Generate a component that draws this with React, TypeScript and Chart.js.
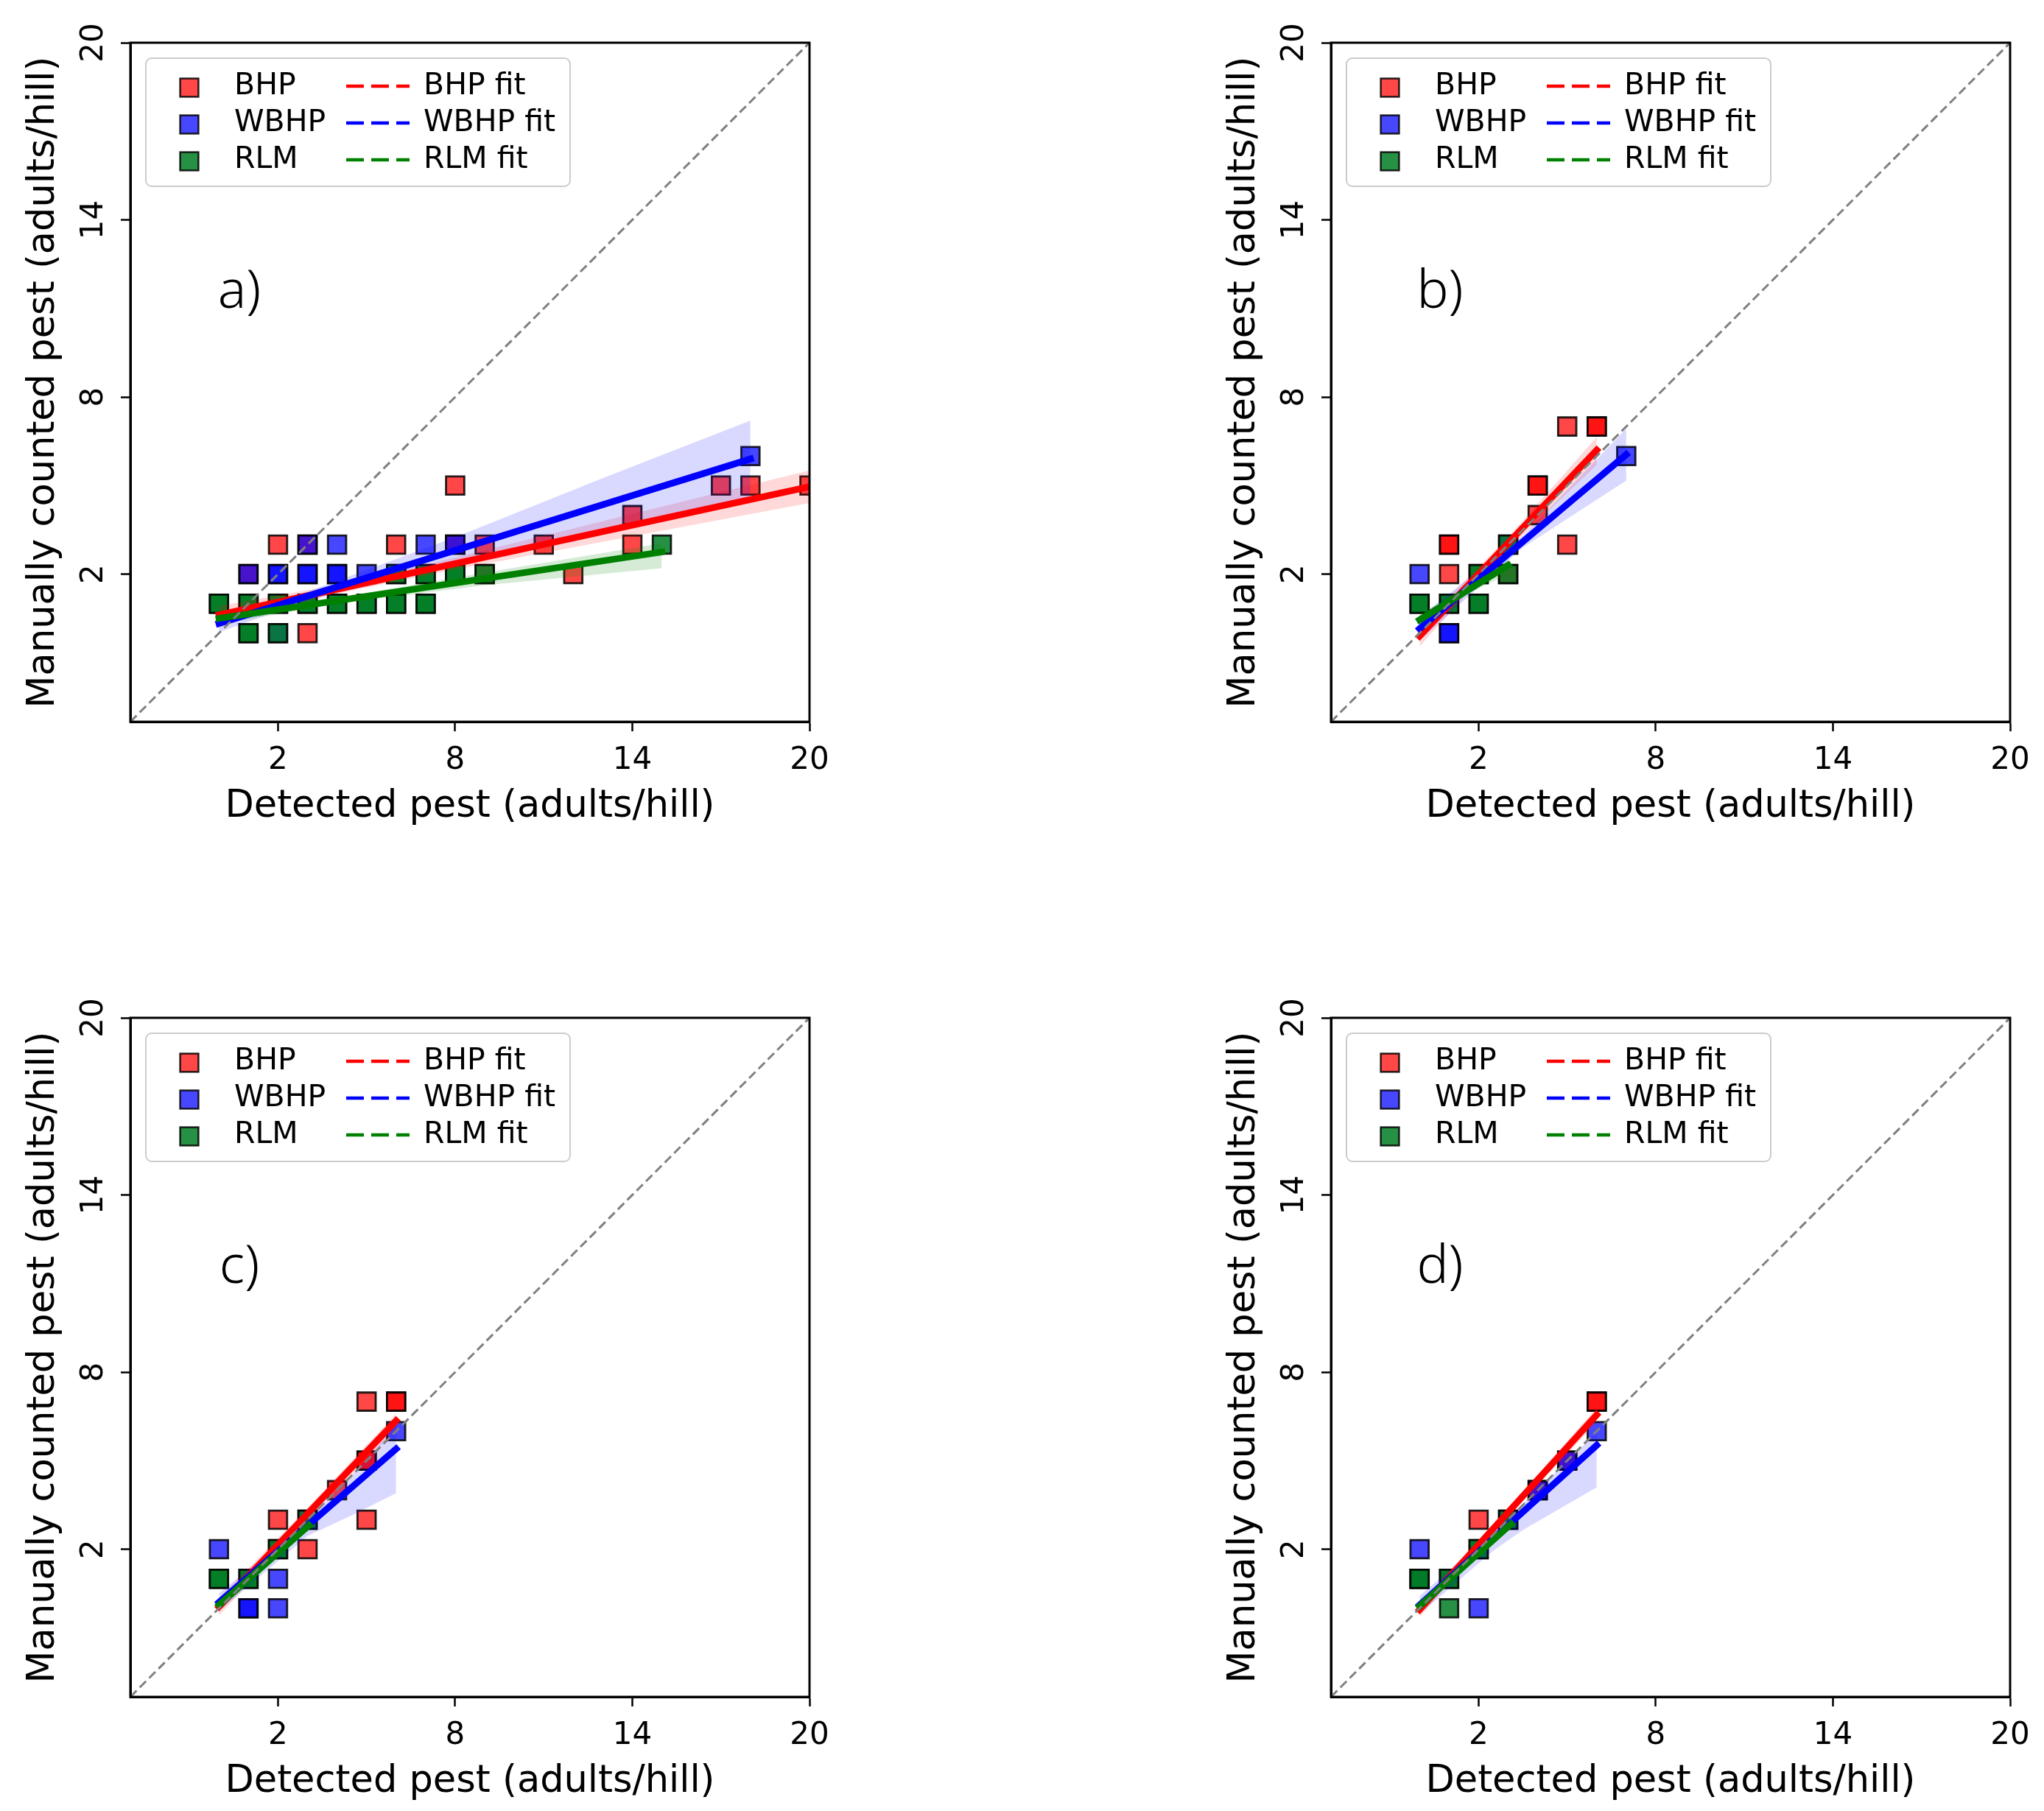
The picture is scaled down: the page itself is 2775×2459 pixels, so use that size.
import React, { useEffect, useRef } from "react";
import { Chart, registerables } from "chart.js";

Chart.register(...registerables);

const axisMin = -3;
const axisMax = 20;
const tickValues = [2, 8, 14, 20];
const groupNames = ["BHP", "WBHP", "RLM"];
const fitNames = ["BHP fit", "WBHP fit", "RLM fit"];
const xTitle = "Detected pest (adults/hill)";
const yTitle = "Manually counted pest (adults/hill)";

// ---- panel a ----
const aBhpX = [3, 2, 6, 9, 11, 14, 12, 14, 8, 17, 18, 20, 1, 3, 8, 9];
const aBhpY = [0, 3, 3, 3, 3, 3, 2, 4, 5, 5, 5, 5, 2, 3, 3, 2];
const aWbhpX = [1, 2, 2, 3, 3, 4, 4, 5, 3, 4, 7, 8, 18, 2];
const aWbhpY = [2, 2, 2, 2, 2, 2, 2, 2, 3, 3, 3, 3, 6, 0];
const aRlmX = [0, 0, 1, 1, 2, 2, 3, 3, 4, 4, 5, 5, 6, 6, 7, 7, 1, 1, 2, 6, 6, 7, 7, 8, 8, 9, 15];
const aRlmY = [1, 1, 1, 1, 1, 1, 1, 1, 1, 1, 1, 1, 1, 1, 1, 1, 0, 0, 0, 2, 2, 2, 2, 2, 2, 2, 3];
const aBhpFitX = [0, 20];
const aBhpFitY = [0.62, 4.96];
const aWbhpFitX = [0, 18];
const aWbhpFitY = [0.33, 5.9];
const aRlmFitX = [0, 15];
const aRlmFitY = [0.5, 2.75];
const aBhpBandX = [0, 4, 8, 14, 20];
const aBhpBandLo = [0.32, 1.34, 2.16, 3.28, 4.41];
const aBhpBandHi = [0.92, 1.64, 2.56, 4.04, 5.51];
const aWbhpBandX = [0, 3, 8, 13, 18];
const aWbhpBandLo = [0.03, 1.11, 2.35, 3.45, 4.6];
const aWbhpBandHi = [0.63, 1.41, 3.25, 5.25, 7.2];
const aRlmBandX = [0, 4, 9, 15];
const aRlmBandLo = [0.3, 1.0, 1.62, 2.2];
const aRlmBandHi = [0.7, 1.2, 2.05, 3.05];

// ---- panel b ----
const bBhpX = [5, 6, 6, 4, 4, 4, 1, 1, 5, 1, 3];
const bBhpY = [7, 7, 7, 5, 5, 4, 3, 3, 3, 2, 2];
const bWbhpX = [7, 0, 1, 1, 3];
const bWbhpY = [6, 2, 0, 0, 3];
const bRlmX = [0, 0, 1, 1, 2, 2, 2, 2, 3, 3];
const bRlmY = [1, 1, 1, 1, 1, 1, 2, 2, 2, 3];
const bBhpFitX = [0, 6];
const bBhpFitY = [-0.1, 6.2];
const bWbhpFitX = [0, 7];
const bWbhpFitY = [0.15, 6.05];
const bRlmFitX = [0, 3];
const bRlmFitY = [0.45, 2.3];
const bBhpBandX = [0, 3, 6];
const bBhpBandLo = [-0.45, 2.85, 5.7];
const bBhpBandHi = [0.25, 3.25, 6.65];
const bWbhpBandX = [0, 3.5, 7];
const bWbhpBandLo = [-0.25, 2.9, 5.17];
const bWbhpBandHi = [0.55, 3.3, 6.93];
const bRlmBandX = [0, 1.5, 3];
const bRlmBandLo = [0.25, 1.28, 2.0];
const bRlmBandHi = [0.65, 1.48, 2.6];

// ---- panel c ----
const cBhpX = [5, 6, 6, 5, 5, 4, 2, 5, 3];
const cBhpY = [7, 7, 7, 5, 5, 4, 3, 3, 2];
const cWbhpX = [6, 3, 0, 2, 1, 1, 2];
const cWbhpY = [6, 3, 2, 1, 0, 0, 0];
const cRlmX = [3, 2, 2, 0, 0, 1, 1];
const cRlmY = [3, 2, 2, 1, 1, 1, 1];
const cBhpFitX = [0, 6];
const cBhpFitY = [0.05, 6.35];
const cWbhpFitX = [0, 6];
const cWbhpFitY = [0.2, 5.4];
const cRlmFitX = [0, 3.05];
const cRlmFitY = [0.11, 2.81];
const cBhpBandX = [0, 3, 6];
const cBhpBandLo = [-0.25, 3.0, 6.05];
const cBhpBandHi = [0.35, 3.4, 6.6];
const cWbhpBandX = [0, 3, 4.5, 6];
const cWbhpBandLo = [-0.1, 2.45, 3.15, 3.9];
const cWbhpBandHi = [0.5, 3.0, 4.5, 6.2];
const cRlmBandX = [0, 1.5, 3.05];
const cRlmBandLo = [0.0, 1.38, 2.65];
const cRlmBandHi = [0.22, 1.48, 2.97];

// ---- panel d ----
const dBhpX = [6, 6, 5, 4, 2];
const dBhpY = [7, 7, 5, 4, 3];
const dWbhpX = [6, 5, 4, 3, 0, 0, 2];
const dWbhpY = [6, 5, 4, 3, 2, 1, 0];
const dRlmX = [3, 2, 2, 0, 0, 1, 1, 1];
const dRlmY = [3, 2, 2, 1, 1, 1, 1, 0];
const dBhpFitX = [0, 6];
const dBhpFitY = [-0.05, 6.55];
const dWbhpFitX = [0, 6];
const dWbhpFitY = [0.11, 5.52];
const dRlmFitX = [0, 3.1];
const dRlmFitY = [0.07, 2.86];
const dBhpBandX = [0, 3, 6];
const dBhpBandLo = [-0.3, 3.1, 6.3];
const dBhpBandHi = [0.2, 3.4, 6.8];
const dWbhpBandX = [0, 2.5, 3.5, 6];
const dWbhpBandLo = [-0.2, 1.95, 2.65, 4.1];
const dWbhpBandHi = [0.42, 2.6, 3.55, 5.95];
const dRlmBandX = [0, 1.5, 3.1];
const dRlmBandLo = [-0.05, 1.37, 2.7];
const dRlmBandHi = [0.19, 1.47, 3.02];

const markerColors = ["rgba(255,0,0,0.72)", "rgba(0,0,255,0.72)", "rgba(0,125,35,0.85)"];
const lineColors = ["#ff0000", "#0000ff", "#008000"];
const bandColors = ["rgba(255,0,0,0.15)", "rgba(0,0,255,0.15)", "rgba(0,128,0,0.16)"];
const edgeColor = "rgba(0,0,0,0.85)";
const FONT = '"DejaVu Sans", sans-serif';

type Group = {
  x: number[];
  y: number[];
  fitX: number[];
  fitY: number[];
  bandX: number[];
  bandLo: number[];
  bandHi: number[];
};

type Panel = { label: string; left: number; top: number; groups: Group[] };

const panels: Panel[] = [
  {
    label: "a)",
    left: 0,
    top: 0,
    groups: [
      { x: aBhpX, y: aBhpY, fitX: aBhpFitX, fitY: aBhpFitY, bandX: aBhpBandX, bandLo: aBhpBandLo, bandHi: aBhpBandHi },
      { x: aWbhpX, y: aWbhpY, fitX: aWbhpFitX, fitY: aWbhpFitY, bandX: aWbhpBandX, bandLo: aWbhpBandLo, bandHi: aWbhpBandHi },
      { x: aRlmX, y: aRlmY, fitX: aRlmFitX, fitY: aRlmFitY, bandX: aRlmBandX, bandLo: aRlmBandLo, bandHi: aRlmBandHi },
    ],
  },
  {
    label: "b)",
    left: 1630,
    top: 0,
    groups: [
      { x: bBhpX, y: bBhpY, fitX: bBhpFitX, fitY: bBhpFitY, bandX: bBhpBandX, bandLo: bBhpBandLo, bandHi: bBhpBandHi },
      { x: bWbhpX, y: bWbhpY, fitX: bWbhpFitX, fitY: bWbhpFitY, bandX: bWbhpBandX, bandLo: bWbhpBandLo, bandHi: bWbhpBandHi },
      { x: bRlmX, y: bRlmY, fitX: bRlmFitX, fitY: bRlmFitY, bandX: bRlmBandX, bandLo: bRlmBandLo, bandHi: bRlmBandHi },
    ],
  },
  {
    label: "c)",
    left: 0,
    top: 1324,
    groups: [
      { x: cBhpX, y: cBhpY, fitX: cBhpFitX, fitY: cBhpFitY, bandX: cBhpBandX, bandLo: cBhpBandLo, bandHi: cBhpBandHi },
      { x: cWbhpX, y: cWbhpY, fitX: cWbhpFitX, fitY: cWbhpFitY, bandX: cWbhpBandX, bandLo: cWbhpBandLo, bandHi: cWbhpBandHi },
      { x: cRlmX, y: cRlmY, fitX: cRlmFitX, fitY: cRlmFitY, bandX: cRlmBandX, bandLo: cRlmBandLo, bandHi: cRlmBandHi },
    ],
  },
  {
    label: "d)",
    left: 1630,
    top: 1324,
    groups: [
      { x: dBhpX, y: dBhpY, fitX: dBhpFitX, fitY: dBhpFitY, bandX: dBhpBandX, bandLo: dBhpBandLo, bandHi: dBhpBandHi },
      { x: dWbhpX, y: dWbhpY, fitX: dWbhpFitX, fitY: dWbhpFitY, bandX: dWbhpBandX, bandLo: dWbhpBandLo, bandHi: dWbhpBandHi },
      { x: dRlmX, y: dRlmY, fitX: dRlmFitX, fitY: dRlmFitY, bandX: dRlmBandX, bandLo: dRlmBandLo, bandHi: dRlmBandHi },
    ],
  },
];

const toPoints = (xs: number[], ys: number[]) => xs.map((x, i) => ({ x, y: ys[i] }));

// top and right spines, drawn over the clipped markers
const framePlugin = {
  id: "frame",
  afterDatasetsDraw(chart: any) {
    const { ctx, chartArea } = chart;
    ctx.save();
    ctx.strokeStyle = "#000";
    ctx.lineWidth = 3;
    ctx.strokeRect(chartArea.left, chartArea.top, chartArea.right - chartArea.left, chartArea.bottom - chartArea.top);
    ctx.restore();
  },
};

// matplotlib-like two column legend plus the panel letter
const legendPlugin = {
  id: "panelLegend",
  afterDraw(chart: any, _args: any, opts: any) {
    const { ctx, chartArea } = chart;
    const bx = chartArea.left + 21;
    const by = chartArea.top + 21;
    ctx.save();
    ctx.beginPath();
    ctx.roundRect(bx, by, 576, 174, 8);
    ctx.fillStyle = "rgba(255,255,255,0.8)";
    ctx.fill();
    ctx.lineWidth = 2;
    ctx.strokeStyle = "#cccccc";
    ctx.stroke();

    ctx.font = `41px ${FONT}`;
    ctx.textBaseline = "middle";
    ctx.textAlign = "left";
    groupNames.forEach((name, i) => {
      const cy = by + 38 + i * 50;
      ctx.fillStyle = markerColors[i];
      ctx.fillRect(bx + 59 - 12.4, cy + 2 - 12.4, 24.8, 24.8);
      ctx.strokeStyle = edgeColor;
      ctx.lineWidth = 2.5;
      ctx.strokeRect(bx + 59 - 12.4, cy + 2 - 12.4, 24.8, 24.8);
      ctx.fillStyle = "#000";
      ctx.fillText(name, bx + 120, cy);

      ctx.setLineDash([24, 10]);
      ctx.strokeStyle = lineColors[i];
      ctx.lineWidth = 4.5;
      ctx.beginPath();
      ctx.moveTo(bx + 272, cy);
      ctx.lineTo(bx + 358, cy);
      ctx.stroke();
      ctx.setLineDash([]);
      ctx.fillStyle = "#000";
      ctx.fillText(fitNames[i], bx + 377, cy);
    });

    ctx.font = '300 72px "Noto Sans", sans-serif';
    ctx.textAlign = "center";
    ctx.textBaseline = "alphabetic";
    ctx.fillStyle = "#000";
    ctx.fillText(opts.label, chartArea.left + 148, chartArea.top + 360);
    ctx.restore();
  },
};

function buildConfig(panel: Panel): any {
  const layers: any[] = [];

  panel.groups.forEach((g, i) => {
    layers.push({
      type: "scatter",
      label: groupNames[i],
      data: toPoints(g.x, g.y),
      pointStyle: "rect",
      pointRadius: 17.5,
      pointHoverRadius: 17.5,
      pointBackgroundColor: markerColors[i],
      pointBorderColor: edgeColor,
      pointBorderWidth: 2.8,
      showLine: false,
      clip: 0,
    });
  });

  panel.groups.forEach((g, i) => {
    const upperIndex = layers.length;
    layers.push({
      type: "line",
      label: fitNames[i] + " upper",
      data: toPoints(g.bandX, g.bandHi),
      borderWidth: 0,
      pointRadius: 0,
      fill: false,
      clip: 0,
    });
    layers.push({
      type: "line",
      label: fitNames[i] + " lower",
      data: toPoints(g.bandX, g.bandLo),
      borderWidth: 0,
      pointRadius: 0,
      backgroundColor: bandColors[i],
      fill: upperIndex,
      clip: 0,
    });
  });

  panel.groups.forEach((g, i) => {
    layers.push({
      type: "line",
      label: fitNames[i],
      data: toPoints(g.fitX, g.fitY),
      borderColor: lineColors[i],
      borderWidth: 9,
      borderCapStyle: "square",
      pointRadius: 0,
      fill: false,
      clip: 0,
    });
  });

  layers.push({
    type: "line",
    label: "1:1",
    data: toPoints([axisMin, axisMax], [axisMin, axisMax]),
    borderColor: "#808080",
    borderWidth: 3,
    borderDash: [12, 6],
    pointRadius: 0,
    fill: false,
    clip: 0,
  });

  // first pushed = bottom layer
  const datasets = layers.map((d, i) => ({ ...d, order: layers.length - i }));

  const tickFont = { family: FONT, size: 42 };
  const titleFont = { family: FONT, size: 51 };

  return {
    type: "scatter",
    data: { datasets },
    plugins: [framePlugin, legendPlugin],
    options: {
      animation: false,
      responsive: true,
      maintainAspectRatio: false,
      layout: { padding: { left: 0, top: 58, right: 50, bottom: 0 } },
      plugins: {
        legend: { display: false },
        tooltip: { enabled: false },
        panelLegend: { label: panel.label },
      },
      scales: {
        x: {
          type: "linear",
          min: axisMin,
          max: axisMax,
          afterBuildTicks: (s: any) => {
            s.ticks = tickValues.map((v) => ({ value: v }));
          },
          afterFit: (s: any) => {
            s.height = 151;
          },
          ticks: { font: tickFont, color: "#000", padding: 15, autoSkip: false, maxRotation: 0 },
          grid: { display: true, drawOnChartArea: false, drawTicks: true, tickLength: 13, tickWidth: 2.5, tickColor: "#000" },
          border: { display: true, color: "#000", width: 3 },
          title: { display: true, text: xTitle, font: titleFont, color: "#000", padding: { top: 0, bottom: 5 } },
        },
        y: {
          type: "linear",
          min: axisMin,
          max: axisMax,
          afterBuildTicks: (s: any) => {
            s.ticks = tickValues.map((v) => ({ value: v }));
          },
          afterFit: (s: any) => {
            s.width = 177;
          },
          ticks: {
            font: tickFont,
            color: "#000",
            padding: 9,
            autoSkip: false,
            minRotation: 90,
            maxRotation: 90,
            crossAlign: "center",
          },
          grid: { display: true, drawOnChartArea: false, drawTicks: true, tickLength: 13, tickWidth: 2.5, tickColor: "#000" },
          border: { display: true, color: "#000", width: 3 },
          title: { display: true, text: yTitle, font: titleFont, color: "#000", padding: { top: 29, bottom: 0 } },
        },
      },
    },
  };
}

const PanelChart: React.FC<{ panel: Panel }> = ({ panel }) => {
  const canvasRef = useRef<HTMLCanvasElement | null>(null);

  useEffect(() => {
    const chart = new Chart(canvasRef.current!.getContext("2d")!, buildConfig(panel));
    return () => {
      chart.destroy();
    };
  }, [panel]);

  return (
    <div style={{ position: "absolute", left: panel.left, top: panel.top, width: 1149, height: 1131 }}>
      <canvas ref={canvasRef}></canvas>
    </div>
  );
};

export default function App() {
  useEffect(() => {
    document.body.style.margin = "0";
    document.body.style.overflow = "hidden";
  }, []);

  return (
    <div
      style={{
        position: "absolute",
        left: 0,
        top: 0,
        width: 2775,
        height: 2459,
        overflow: "hidden",
        background: "#fff",
      }}
    >
      {panels.map((p) => (
        <PanelChart key={p.label} panel={p} />
      ))}
    </div>
  );
}
